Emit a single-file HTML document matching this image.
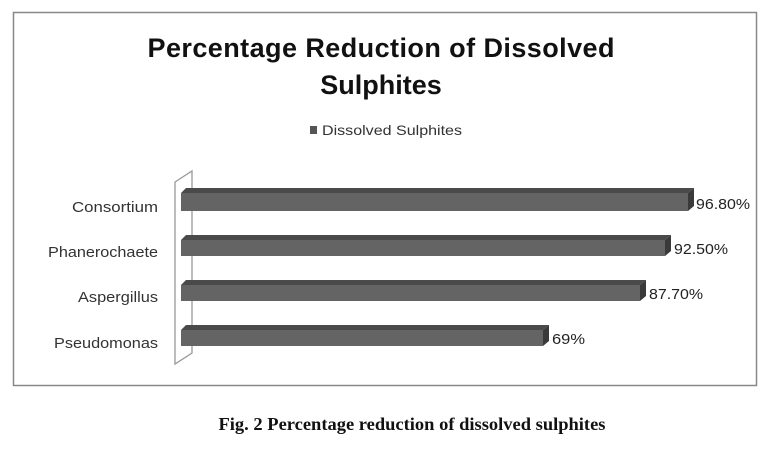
<!DOCTYPE html>
<html><head><style>
body{margin:0;background:#fff;width:770px;height:444px;overflow:hidden}
</style></head><body>
<svg width="770" height="444" xmlns="http://www.w3.org/2000/svg" font-family="Liberation Sans, sans-serif">
<rect x="13.5" y="12.5" width="743" height="373" fill="#fff" stroke="#888" stroke-width="1.5"/>
<text x="381" y="57" text-anchor="middle" font-size="27" font-weight="bold" fill="#111" textLength="467">Percentage Reduction of Dissolved</text>
<text x="381" y="94" text-anchor="middle" font-size="27" font-weight="bold" fill="#111">Sulphites</text>
<rect x="310" y="126" width="7" height="8" fill="#555"/>
<text x="322" y="135" font-size="14" fill="#333" textLength="140" lengthAdjust="spacingAndGlyphs">Dissolved Sulphites</text>
<polygon points="175,182 192,171 192,353 175,364" fill="#fff" stroke="#999" stroke-width="1.3"/>
<g font-size="14.5" fill="#333">
<text x="72" y="212" textLength="86" lengthAdjust="spacingAndGlyphs">Consortium</text>
<text x="48" y="257" textLength="110" lengthAdjust="spacingAndGlyphs">Phanerochaete</text>
<text x="78" y="302" textLength="80" lengthAdjust="spacingAndGlyphs">Aspergillus</text>
<text x="54" y="348" textLength="104" lengthAdjust="spacingAndGlyphs">Pseudomonas</text>
</g>
<g>
<polygon points="181,193 186,188 694,188 688,193" fill="#4a4a4a"/>
<polygon points="688,193 694,188 694,206 688,211" fill="#3a3a3a"/>
<rect x="181" y="193" width="507" height="18" fill="#646464"/>
<polygon points="181,240 186,235 671,235 665,240" fill="#4a4a4a"/>
<polygon points="665,240 671,235 671,251 665,256" fill="#3a3a3a"/>
<rect x="181" y="240" width="484" height="16" fill="#646464"/>
<polygon points="181,285 186,280 646,280 640,285" fill="#4a4a4a"/>
<polygon points="640,285 646,280 646,296 640,301" fill="#3a3a3a"/>
<rect x="181" y="285" width="459" height="16" fill="#646464"/>
<polygon points="181,330 186,325 549,325 543,330" fill="#4a4a4a"/>
<polygon points="543,330 549,325 549,341 543,346" fill="#3a3a3a"/>
<rect x="181" y="330" width="362" height="16" fill="#646464"/>
</g>
<g font-size="15" fill="#222">
<text x="696" y="209" textLength="54" lengthAdjust="spacingAndGlyphs">96.80%</text>
<text x="674" y="254" textLength="54" lengthAdjust="spacingAndGlyphs">92.50%</text>
<text x="649" y="299" textLength="54" lengthAdjust="spacingAndGlyphs">87.70%</text>
<text x="552" y="344" textLength="33" lengthAdjust="spacingAndGlyphs">69%</text>
</g>
<text x="412" y="430" text-anchor="middle" font-family="Liberation Serif, serif" font-size="18" font-weight="bold" fill="#111" textLength="387" lengthAdjust="spacingAndGlyphs">Fig. 2 Percentage reduction of dissolved sulphites</text>
</svg>
</body></html>
